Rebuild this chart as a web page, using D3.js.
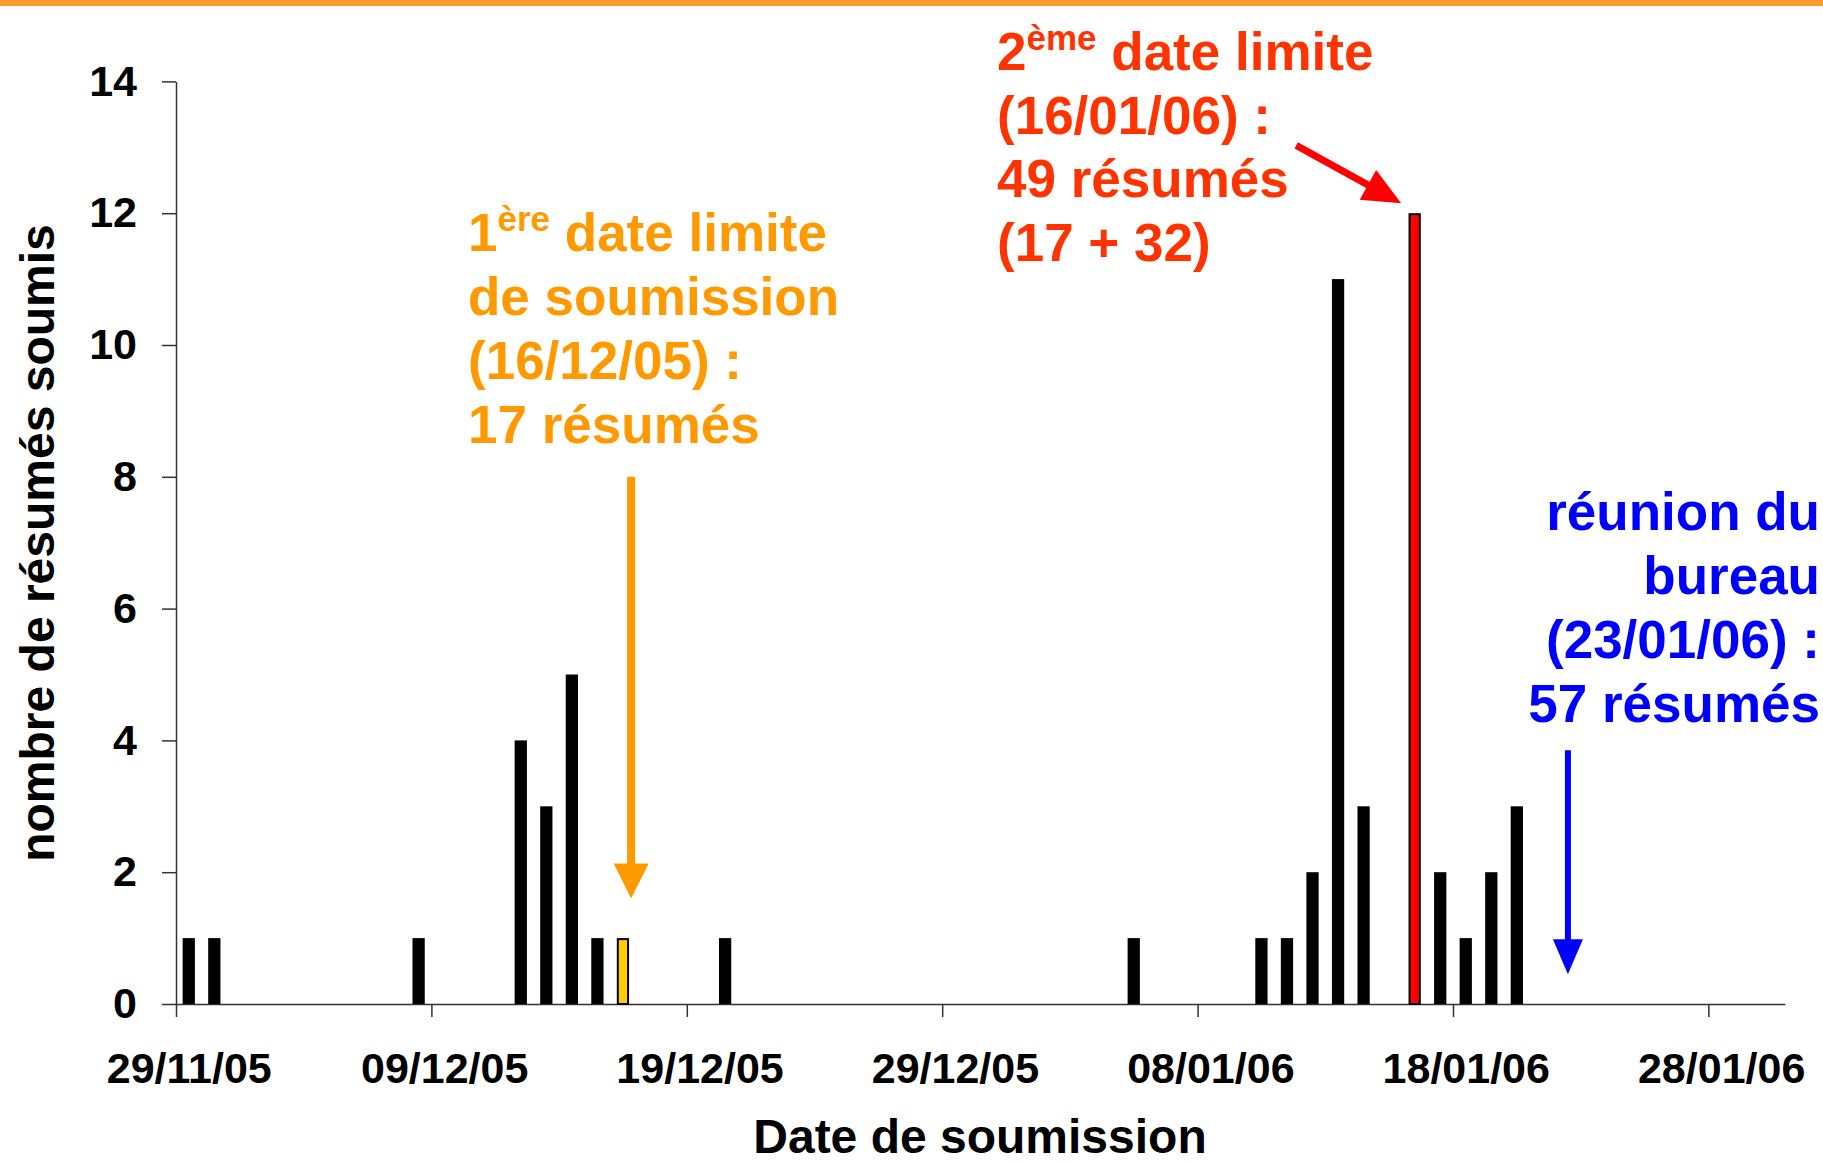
<!DOCTYPE html>
<html>
<head>
<meta charset="utf-8">
<script src="https://cdn.jsdelivr.net/npm/d3@7"></script>
<style>
  body { margin: 0; background: #fff; }
  svg { display: block; font-family: "Liberation Sans", Arial, Helvetica, sans-serif; font-weight: bold; }
</style>
</head>
<body>
<svg id="chart" width="1823" height="1164"></svg>
<script>
// submissions per day
const submitDates = ["29/11/05", "30/11/05", "08/12/05", "12/12/05", "13/12/05", "14/12/05", "15/12/05", "16/12/05",
  "20/12/05", "05/01/06", "10/01/06", "11/01/06", "12/01/06", "13/01/06", "14/01/06", "16/01/06",
  "17/01/06", "18/01/06", "19/01/06", "20/01/06"];
const submitCounts = [1, 1, 1, 4, 3, 5, 1, 1, 1, 1, 1, 1, 2, 11, 3, 12, 2, 1, 2, 3];
const firstDeadline = "16/12/05";
const secondDeadline = "16/01/06";

const tickLabels = ["29/11/05", "09/12/05", "19/12/05", "29/12/05", "08/01/06", "18/01/06", "28/01/06"];
const yTicks = [0, 2, 4, 6, 8, 10, 12, 14];
const dateRange = ["29/11/05", "31/01/06"];

const orangeNote = ["de soumission", "(16/12/05) :", "17 résumés"];
const redNote = ["(16/01/06) :", "49 résumés", "(17 + 32)"];
const blueNote = ["réunion du", "bureau", "(23/01/06) :", "57 résumés"];

const parse = d3.timeParse("%d/%m/%y");
const parseT = d3.timeParse("%d/%m/%y %H:%M");

const W = 1823, H = 1164;
const margin = { top: 81.4, right: 38, bottom: 160, left: 176 };

const svg = d3.select("#chart");

const x = d3.scaleTime()
  .domain(dateRange.map(parse))
  .range([margin.left, W - margin.right]);

const y = d3.scaleLinear()
  .domain([0, 14])
  .range([H - margin.bottom, margin.top]);

const dayW = x(parse("30/11/05")) - x(parse("29/11/05"));
const barW = dayW * 0.48;

// orange band on top
svg.append("rect")
  .attr("x", 0).attr("y", 0)
  .attr("width", W).attr("height", 6)
  .attr("fill", "#ff9a2e");

// axes
const xAxis = svg.append("g")
  .attr("transform", `translate(0,${y(0)})`)
  .call(d3.axisBottom(x)
    .tickValues(tickLabels.map(parse))
    .tickFormat(d3.timeFormat("%d/%m/%y"))
    .tickSize(13)
    .tickSizeOuter(0)
    .tickPadding(35));
xAxis.selectAll("text")
  .attr("x", dayW / 2)
  .attr("font-size", 43)
  .attr("font-family", "Liberation Sans, Arial, sans-serif")
  .attr("font-weight", "bold")
  .attr("fill", "#000");

const yAxis = svg.append("g")
  .attr("transform", `translate(${margin.left},0)`)
  .call(d3.axisLeft(y)
    .tickValues(yTicks)
    .tickSize(14)
    .tickSizeOuter(0)
    .tickPadding(25));
yAxis.selectAll("text")
  .attr("font-size", 43)
  .attr("font-family", "Liberation Sans, Arial, sans-serif")
  .attr("font-weight", "bold")
  .attr("fill", "#000");

svg.selectAll(".domain, .tick line")
  .attr("stroke", "#333")
  .attr("stroke-width", 1.5);

// bars
const bars = submitDates.map((d, i) => ({ date: parse(d), key: d, value: submitCounts[i] }));
const isDeadline = d => d.key === firstDeadline || d.key === secondDeadline;

svg.append("g")
  .selectAll("rect")
  .data(bars)
  .join("rect")
  .attr("x", d => x(d.date) + dayW / 2 - barW / 2 + (isDeadline(d) ? 1 : 0))
  .attr("y", d => y(d.value) + (isDeadline(d) ? 1 : 0))
  .attr("width", d => isDeadline(d) ? barW - 2 : barW)
  .attr("height", d => y(0) - y(d.value) - (isDeadline(d) ? 1 : 0))
  .attr("fill", d => d.key === firstDeadline ? "#ffcc00" : d.key === secondDeadline ? "#ff0000" : "#000")
  .attr("stroke", d => isDeadline(d) ? "#000" : "none")
  .attr("stroke-width", 2);

// axis titles
svg.append("text")
  .attr("x", 980)
  .attr("y", 1153)
  .attr("text-anchor", "middle")
  .attr("font-size", 48)
  .text("Date de soumission");

svg.append("text")
  .attr("transform", `translate(54,${543}) rotate(-90)`)
  .attr("text-anchor", "middle")
  .attr("font-size", 48)
  .text("nombre de résumés soumis");

// arrows
function arrow(x1, y1, x2, y2, color, lw, headL, headW) {
  const dx = x2 - x1, dy = y2 - y1;
  const len = Math.sqrt(dx * dx + dy * dy);
  const ux = dx / len, uy = dy / len;
  const bx = x2 - ux * headL, by = y2 - uy * headL;
  svg.append("line")
    .attr("x1", x1).attr("y1", y1)
    .attr("x2", bx + ux * 2).attr("y2", by + uy * 2)
    .attr("stroke", color)
    .attr("stroke-width", lw);
  svg.append("path")
    .attr("d", `M${x2},${y2}L${bx - uy * headW / 2},${by + ux * headW / 2}L${bx + uy * headW / 2},${by - ux * headW / 2}Z`)
    .attr("fill", color);
}

const orangeAt = parseT("16/12/05 19:40");
arrow(x(orangeAt), y(8.0), x(orangeAt), y(1.6), "#ff9900", 8, 35, 35);
arrow(x(parseT("11/01/06 20:40")), y(13.03), x(parseT("15/01/06 23:20")), y(12.15), "#ff0000", 7, 38, 34);
const blueAt = parseT("22/01/06 12:00");
arrow(x(blueAt), y(3.85), x(blueAt), y(0.45), "#0000ff", 6, 35, 30);

// annotations
const lineH = 64;

const orange = svg.append("text")
  .attr("fill", "#ff9900")
  .attr("font-size", 53);
const o1 = orange.append("tspan").attr("x", 468).attr("y", 251);
o1.append("tspan").text("1");
o1.append("tspan").attr("font-size", 35).attr("dy", -20).text("ère");
o1.append("tspan").attr("dy", 20).text(" date limite");
orangeNote.forEach((t, i) => {
  orange.append("tspan").attr("x", 468).attr("y", 251 + (i + 1) * lineH).text(t);
});

const red = svg.append("text")
  .attr("fill", "#ff3300")
  .attr("font-size", 53);
const r1 = red.append("tspan").attr("x", 997).attr("y", 70);
r1.append("tspan").text("2");
r1.append("tspan").attr("font-size", 35).attr("dy", -20).text("ème");
r1.append("tspan").attr("dy", 20).text(" date limite");
redNote.forEach((t, i) => {
  red.append("tspan").attr("x", 997).attr("y", 70 + (i + 1) * 63.5).text(t);
});

const blue = svg.append("text")
  .attr("fill", "#0000ff")
  .attr("font-size", 53)
  .attr("text-anchor", "end");
blueNote.forEach((t, i) => {
  blue.append("tspan").attr("x", 1820).attr("y", 530 + i * lineH).text(t);
});
</script>
</body>
</html>
